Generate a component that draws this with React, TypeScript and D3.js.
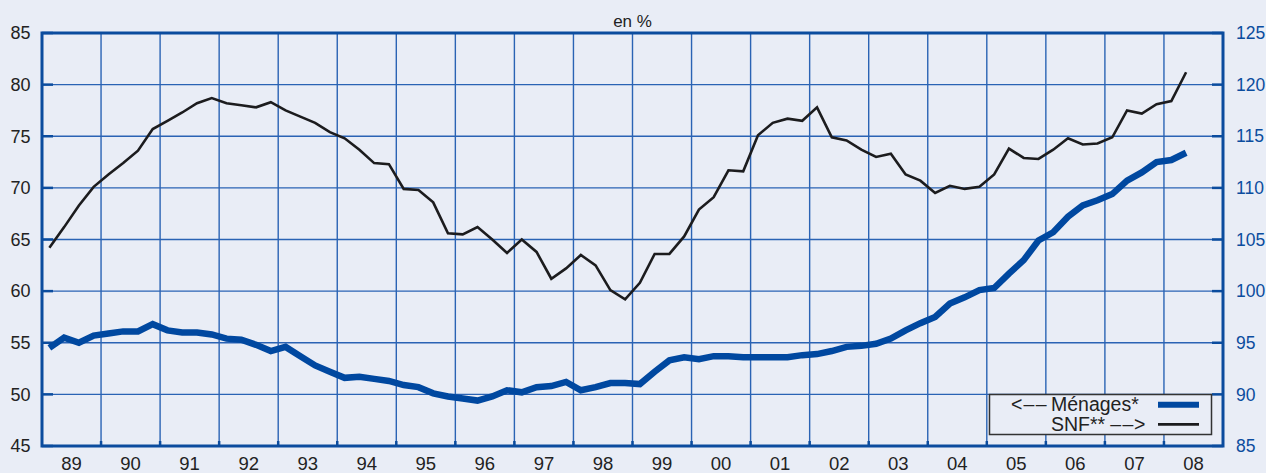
import React from "react";
import * as d3 from "d3";

const startYear = 1989;
const yearLabels = ["89","90","91","92","93","94","95","96","97","98","99","00","01","02","03","04","05","06","07","08"];
const leftTicks = [45, 50, 55, 60, 65, 70, 75, 80, 85];
const rightTicks = [85, 90, 95, 100, 105, 110, 115, 120, 125];

// Ménages (left axis, %), quarterly from 1989Q1
const menages = [
  54.5, 55.5, 55.0, 55.7, 55.9, 56.1, 56.1, 56.8, 56.2, 56.0,
  56.0, 55.8, 55.4, 55.3, 54.8, 54.2, 54.6, 53.7, 52.8, 52.2,
  51.6, 51.7, 51.5, 51.3, 50.9, 50.7, 50.1, 49.8, 49.6, 49.4,
  49.8, 50.4, 50.2, 50.7, 50.8, 51.2, 50.4, 50.7, 51.1, 51.1,
  51.0, 52.2, 53.3, 53.6, 53.4, 53.7, 53.7, 53.6, 53.6, 53.6,
  53.6, 53.8, 53.9, 54.2, 54.6, 54.7, 54.9, 55.4, 56.2, 56.9,
  57.5, 58.8, 59.4, 60.1, 60.3, 61.7, 63.0, 64.9, 65.7, 67.2,
  68.3, 68.8, 69.4, 70.7, 71.5, 72.5, 72.7, 73.4,
];

// SNF (right axis), quarterly from 1989Q1
const snf = [
  104.2, 106.2, 108.3, 110.1, 111.3, 112.4, 113.6, 115.7, 116.5, 117.3,
  118.2, 118.7, 118.2, 118.0, 117.8, 118.3, 117.5, 116.9, 116.3, 115.4,
  114.8, 113.7, 112.4, 112.3, 109.9, 109.8, 108.6, 105.6, 105.5, 106.2,
  105.0, 103.7, 105.0, 103.8, 101.2, 102.2, 103.5, 102.5, 100.1, 99.2,
  100.8, 103.6, 103.6, 105.3, 107.9, 109.1, 111.7, 111.6, 115.1, 116.3,
  116.7, 116.5, 117.8, 114.9, 114.6, 113.7, 113.0, 113.3, 111.3, 110.7,
  109.5, 110.2, 109.9, 110.1, 111.3, 113.8, 112.9, 112.8, 113.7, 114.8,
  114.2, 114.3, 114.9, 117.5, 117.2, 118.1, 118.4, 121.2,
];

const W = 1266, H = 473;
const L = 42, R = 1223, T = 33, B = 446;
const BG = "#e9edf6";
const AXIS = "#0b4c9e";
const GRID = "#2a63b4";
const BLUE = "#0048a0";
const FONT = "'Liberation Sans', Arial, Helvetica, sans-serif";

export default function App() {
  const x = d3.scaleLinear().domain([startYear, startYear + yearLabels.length]).range([L, R]);
  const yL = d3.scaleLinear().domain([45, 85]).range([B, T]);
  const yR = d3.scaleLinear().domain([85, 125]).range([B, T]);
  const tq = (i: number) => startYear + (i + 0.5) / 4;

  const lineL = d3.line<number>().x((_, i) => x(tq(i))).y((d) => yL(d));
  const lineR = d3.line<number>().x((_, i) => x(tq(i))).y((d) => yR(d));

  const years = d3.range(startYear, startYear + yearLabels.length + 1);

  return (
    <svg width={W} height={H} style={{ position: "absolute", left: 0, top: 0, background: BG }}>
      <rect x={0} y={0} width={W} height={H} fill={BG} />
      {/* horizontal grid */}
      {leftTicks.slice(1, -1).map((v) => (
        <line key={"h" + v} x1={L} x2={R} y1={yL(v)} y2={yL(v)} stroke={GRID} strokeWidth={1.4} />
      ))}
      {/* vertical grid */}
      {years.slice(1, -1).map((yr) => (
        <line key={"v" + yr} x1={x(yr)} x2={x(yr)} y1={T} y2={B} stroke={GRID} strokeWidth={1.4} />
      ))}
      {/* bottom ticks */}
      {years.slice(1, -1).map((yr) => (
        <line key={"bt" + yr} x1={x(yr)} x2={x(yr)} y1={B - 5} y2={B} stroke={AXIS} strokeWidth={2.5} />
      ))}
      {/* left ticks */}
      {leftTicks.map((v) => (
        <line key={"lt" + v} x1={L} x2={L + 11} y1={yL(v)} y2={yL(v)} stroke={AXIS} strokeWidth={2.5} />
      ))}
      {/* right ticks */}
      {rightTicks.map((v) => (
        <line key={"rt" + v} x1={R - 11} x2={R} y1={yR(v)} y2={yR(v)} stroke={AXIS} strokeWidth={2.5} />
      ))}
      {/* frame */}
      <rect x={L} y={T} width={R - L} height={B - T} fill="none" stroke={AXIS} strokeWidth={3} />

      {/* series */}
      <path d={lineR(snf) || ""} fill="none" stroke="#1c1c1e" strokeWidth={2.6} strokeLinejoin="miter" />
      <path d={lineL(menages) || ""} fill="none" stroke={BLUE} strokeWidth={6.5} strokeLinejoin="miter" />

      {/* left labels */}
      {leftTicks.map((v) => (
        <text key={"ll" + v} x={30.5} y={yL(v) + 6.3} textAnchor="end" fontFamily={FONT} fontSize={18} fill="#222">
          {v}
        </text>
      ))}
      {/* right labels */}
      {rightTicks.map((v) => (
        <text key={"rl" + v} x={1236} y={yR(v) + 6.2} textAnchor="start" fontFamily={FONT} fontSize={17.5} fill={AXIS}>
          {v}
        </text>
      ))}
      {/* bottom labels */}
      {yearLabels.map((lab, i) => (
        <text key={"bl" + lab} x={x(startYear + i + 0.5)} y={470} textAnchor="middle" fontFamily={FONT} fontSize={18.5} fill="#222">
          {lab}
        </text>
      ))}
      <text x={632.5} y={27} textAnchor="middle" fontFamily={FONT} fontSize={17} fill="#222">en %</text>

      {/* legend */}
      <rect x={989.5} y={394.5} width={222} height={40} fill={BG} stroke="#333" strokeWidth={1.5} />
      <text x={1011} y={410.5} fontFamily={FONT} fontSize={19.5} fill="#222">
        <tspan>&lt;</tspan>
        <tspan dx={1}>–</tspan>
        <tspan dx={1.5}>–</tspan>
        <tspan x={1051}>Ménages*</tspan>
      </text>
      <text x={1051} y={431} fontFamily={FONT} fontSize={19.5} fill="#222">
        <tspan>SNF**</tspan>
        <tspan dx={5}>–</tspan>
        <tspan dx={1.5}>–</tspan>
        <tspan dx={0.5}>&gt;</tspan>
      </text>
      <line x1={1158} x2={1199} y1={404.7} y2={404.7} stroke={BLUE} strokeWidth={6} />
      <line x1={1158} x2={1199} y1={424.3} y2={424.3} stroke="#1c1c1e" strokeWidth={2.8} />
    </svg>
  );
}
